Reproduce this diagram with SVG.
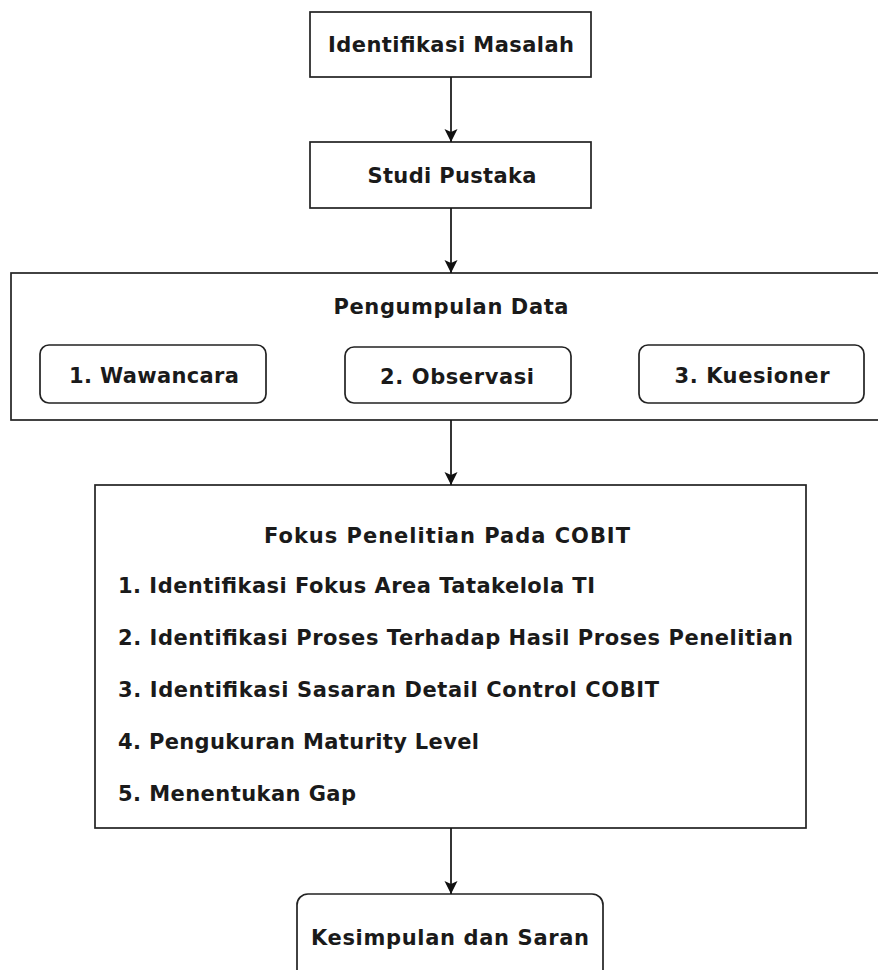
<svg xmlns="http://www.w3.org/2000/svg" width="878" height="970" viewBox="0 0 878 970">
  <style>
    .box { fill: #ffffff; stroke: #222222; stroke-width: 1.7; }
    .t { font-family: "DejaVu Sans", Verdana, sans-serif; font-weight: bold; font-size: 21px; fill: #1a1a1a; }
    .c { text-anchor: middle; }
    .edge { stroke: #111111; stroke-width: 1.7; fill: none; marker-end: url(#arrow); }
  </style>
  <defs>
    <marker id="arrow" markerUnits="userSpaceOnUse" markerWidth="14" markerHeight="14" refX="13" refY="6.5" orient="auto">
      <path d="M0,0 L13,6.5 L0,13 L3,6.5 Z" fill="#111111"/>
    </marker>
  </defs>
  <rect x="0" y="0" width="878" height="970" fill="#ffffff"/>

  <g id="node-identifikasi-masalah">
    <rect class="box" x="310" y="12" width="281" height="65"/>
    <text class="t c" x="451" y="52" textLength="246" lengthAdjust="spacing">Identifikasi Masalah</text>
  </g>

  <g id="node-studi-pustaka">
    <rect class="box" x="310" y="142" width="281" height="66"/>
    <text class="t c" x="452" y="183" textLength="169" lengthAdjust="spacing">Studi Pustaka</text>
  </g>

  <g id="node-pengumpulan-data">
    <rect class="box" x="11" y="273" width="870" height="147"/>
    <text class="t c" x="451" y="314" textLength="235" lengthAdjust="spacing">Pengumpulan Data</text>
  </g>

  <g id="node-wawancara">
    <rect class="box" x="40" y="345" width="226" height="58" rx="9" ry="9"/>
    <text class="t c" x="154" y="383" textLength="170" lengthAdjust="spacing">1. Wawancara</text>
  </g>

  <g id="node-observasi">
    <rect class="box" x="345" y="347" width="226" height="56" rx="9" ry="9"/>
    <text class="t c" x="457" y="384" textLength="154" lengthAdjust="spacing">2. Observasi</text>
  </g>

  <g id="node-kuesioner">
    <rect class="box" x="639" y="345" width="225" height="58" rx="9" ry="9"/>
    <text class="t c" x="752" y="383" textLength="155" lengthAdjust="spacing">3. Kuesioner</text>
  </g>

  <g id="node-fokus-penelitian">
    <rect class="box" x="95" y="485" width="711" height="343"/>
    <text class="t c" x="447" y="543" textLength="366" lengthAdjust="spacing">Fokus Penelitian Pada COBIT</text>
    <text class="t" x="118" y="593" textLength="477" lengthAdjust="spacing">1. Identifikasi Fokus Area Tatakelola TI</text>
    <text class="t" x="118" y="645" textLength="675" lengthAdjust="spacing">2. Identifikasi Proses Terhadap Hasil Proses Penelitian</text>
    <text class="t" x="118" y="697" textLength="541" lengthAdjust="spacing">3. Identifikasi Sasaran Detail Control COBIT</text>
    <text class="t" x="118" y="749" textLength="361" lengthAdjust="spacing">4. Pengukuran Maturity Level</text>
    <text class="t" x="118" y="801" textLength="238" lengthAdjust="spacing">5. Menentukan Gap</text>
  </g>

  <g id="node-kesimpulan">
    <rect class="box" x="297" y="894" width="306" height="100" rx="11" ry="11"/>
    <text class="t c" x="450" y="945" textLength="278" lengthAdjust="spacing">Kesimpulan dan Saran</text>
  </g>

  <g id="connectors">
    <line class="edge" x1="451" y1="77" x2="451" y2="142"/>
    <line class="edge" x1="451" y1="208" x2="451" y2="273"/>
    <line class="edge" x1="451" y1="420" x2="451" y2="485"/>
    <line class="edge" x1="451" y1="828" x2="451" y2="894"/>
  </g>
</svg>
